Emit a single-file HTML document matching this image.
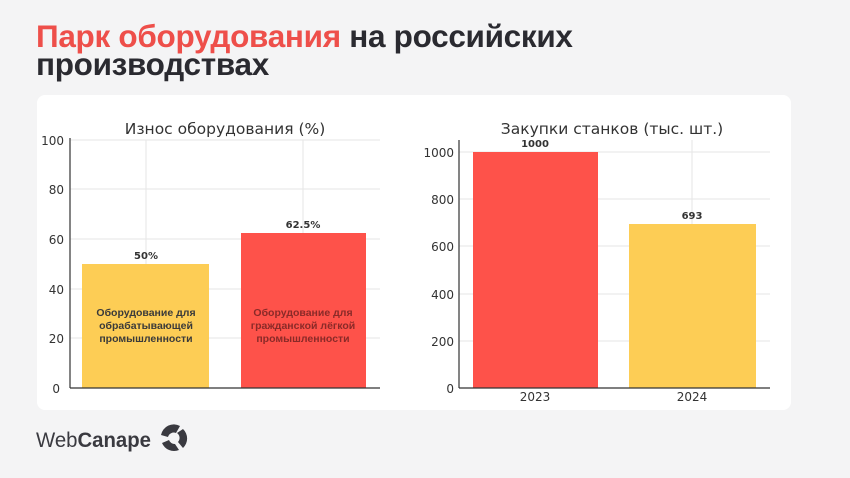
<!DOCTYPE html>
<html><head><meta charset="utf-8"><style>
body{margin:0;width:850px;height:478px;background:#f4f4f5;font-family:"Liberation Sans","DejaVu Sans",sans-serif;overflow:hidden;position:relative}
.h{position:absolute;left:36px;top:22px;font-size:31.5px;font-weight:bold;line-height:28px;color:#2a2a30;letter-spacing:-0.3px}
.h span{color:#ee4f4a}
.panel{position:absolute;left:37px;top:95px;width:754px;height:315px;background:#fff;border-radius:8px}
</style></head><body>
<div class="h"><span>Парк оборудования</span> на российских<br>производствах</div>
<div class="panel"></div>
<svg width="850" height="478" style="position:absolute;left:0;top:0" font-family="DejaVu Sans, sans-serif">
<g stroke="#e6e6e6" stroke-width="1">
<line x1="70" x2="380" y1="140" y2="140"/><line x1="70" x2="380" y1="189" y2="189"/><line x1="70" x2="380" y1="239" y2="239"/><line x1="70" x2="380" y1="289" y2="289"/><line x1="70" x2="380" y1="338" y2="338"/>
<line x1="146" x2="146" y1="140" y2="388"/><line x1="303" x2="303" y1="140" y2="388"/>
<line x1="459" x2="770" y1="152" y2="152"/><line x1="459" x2="770" y1="199" y2="199"/><line x1="459" x2="770" y1="246" y2="246"/><line x1="459" x2="770" y1="294" y2="294"/><line x1="459" x2="770" y1="341" y2="341"/>
<line x1="692" x2="692" y1="140" y2="388"/>
</g>
<rect x="82" y="264" width="127" height="124" fill="#fdcd55"/>
<rect x="241" y="233" width="125" height="155" fill="#fe524a"/>
<rect x="473" y="152" width="125" height="236" fill="#fe524a"/>
<rect x="629" y="224" width="127" height="164" fill="#fdcd55"/>
<g stroke="#333" stroke-width="1.2"><line x1="70" x2="70" y1="138" y2="388"/><line x1="70" x2="380" y1="388" y2="388"/>
<line x1="459" x2="459" y1="140" y2="388"/><line x1="459" x2="770" y1="388" y2="388"/></g>
<g font-size="12" fill="#333" text-anchor="end">
<text x="64" y="145">100</text><text x="64" y="194">80</text><text x="64" y="244">60</text><text x="64" y="294">40</text><text x="64" y="343">20</text><text x="60" y="393">0</text>
<text x="454" y="157">1000</text><text x="454" y="204">800</text><text x="454" y="251">600</text><text x="454" y="299">400</text><text x="454" y="346">200</text><text x="454" y="393">0</text>
</g>
<g font-size="12" fill="#333" text-anchor="middle"><text x="535" y="401">2023</text><text x="692" y="401">2024</text></g>
<g font-size="15.5" fill="#333" text-anchor="middle"><text x="225" y="134">Износ оборудования (%)</text><text x="612" y="134">Закупки станков (тыс. шт.)</text></g>
<g font-size="10" font-weight="bold" fill="#333" text-anchor="middle">
<text x="146" y="259">50%</text><text x="303" y="228">62.5%</text><text x="535" y="147">1000</text><text x="692" y="219">693</text></g>
<g font-size="10.5" font-weight="bold" fill="#3a3a3a" text-anchor="middle" font-family="Liberation Sans, sans-serif">
<text x="146" y="316">Оборудование для</text><text x="146" y="329">обрабатывающей</text><text x="146" y="342">промышленности</text></g>
<g font-size="10.5" font-weight="bold" fill="#8a2a28" text-anchor="middle" font-family="Liberation Sans, sans-serif">
<text x="303" y="316">Оборудование для</text><text x="303" y="329">гражданской лёгкой</text><text x="303" y="342">промышленности</text></g>
<text x="36" y="447" font-family="Liberation Sans, sans-serif" font-size="21" fill="#3a3a40" textLength="115" lengthAdjust="spacingAndGlyphs">Web<tspan font-weight="bold">Canape</tspan></text>
<g transform="translate(174,438)" fill="#3a3a40">
<path d="M-13,-3 A13,13 0 0 1 6,-12 L2,-5 A6,6 0 0 0 -6,-1 Z"/>
<path d="M9,-9 A13,13 0 0 1 9,10 L4,4 A6,6 0 0 0 3,-5 Z"/>
<path d="M5,12 A13,13 0 0 1 -12,5 L-5,2 A6,6 0 0 0 1,6 Z"/>
</g>
</svg>
</body></html>
